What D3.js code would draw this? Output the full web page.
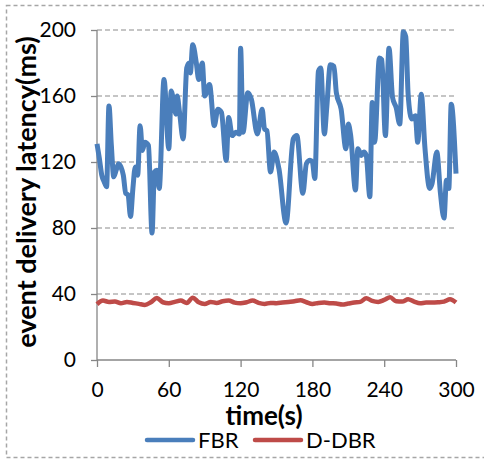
<!DOCTYPE html>
<html>
<head>
<meta charset="utf-8">
<script src="https://cdn.jsdelivr.net/npm/d3@7"></script>
<style>
  body { margin: 0; background: #fff; }
  svg text { font-family: Lato, "Open Sans", sans-serif; fill: #000; }
</style>
</head>
<body>
<svg id="chart" width="484" height="460"></svg>
<script>
// time (s) of each FBR sample
var fbrTimes = [0,2,4,6,8,10,12,14,16,18,
  20,22,24,26,28,30,32,34,36,38,
  40,43,46,48,50,52,56,60,62,66,
  67,69,72,75,77,78,80,83,85,88,
  90,94,98,101,104,108,110,113,116,119,
  120,122,126,129,134,138,140,142,145,148,
  152,158,164,167,172,175,178,180,182,185,
  187,190,192,195,198,200,204,208,210,212,
  216,218,221,223,225,228,230,232,236,238,
  241,244,247,250,253,256,258,260,263,266,
  268,271,274,278,280,284,287,290,292,294,
  296,300];
var fbrValues = [131,122,112,108,105,154,130,111,115,119,
  117,112,101,100,87,104,117,112,142,127,
  132,130,77,114,115,104,170,128,163,149,
  160,150,134,177,180,174,191,180,170,180,
  160,167,142,152,150,121,147,136,138,137,
  189,138,162,158,137,152,140,139,114,126,
  116,83,134,136,101,119,121,120,110,175,
  177,137,153,179,178,162,152,128,143,136,
  103,128,124,126,124,99,156,132,183,182,
  136,189,159,153,143,199,196,161,146,148,
  132,161,129,104,107,126,101,86,109,104,
  155,113];

// D-DBR, one sample every 5 s
var ddbrTimes = d3.range(0, 301, 5);
var ddbrValues = [33.8,36.0,35.2,35.4,34.4,35.2,34.6,34.0,33.4,35.0,
  37.6,35.0,34.4,35.2,36.0,34.6,37.8,35.0,34.0,35.2,
  34.6,35.6,36.0,34.8,34.4,35.0,36.0,34.6,34.0,34.6,
  34.4,34.8,35.2,35.6,36.2,35.0,34.0,34.6,34.8,34.4,
  34.2,33.6,34.2,34.8,35.2,37.4,35.8,35.2,36.4,38.0,
  35.6,35.4,36.8,35.4,34.4,34.8,34.8,35.0,35.4,36.8,
  34.8];

var xTicks = [0, 60, 120, 180, 240, 300];
var yTicks = [0, 40, 80, 120, 160, 200];
var seriesNames = ["FBR", "D-DBR"];
var seriesColors = ["#4a7ebb", "#be4b48"];

var svg = d3.select("#chart");

// dashed frame round the whole chart
svg.append("rect")
  .attr("x", 6.5).attr("y", 5.5)
  .attr("width", 490).attr("height", 452)
  .attr("fill", "none")
  .attr("stroke", "#a6a6a6")
  .attr("stroke-width", 1.5)
  .attr("stroke-dasharray", "4,3");

var x = d3.scaleLinear().domain([0, 300]).range([97, 456]);
var y = d3.scaleLinear().domain([0, 200]).range([360, 30]);

// grid lines
svg.append("g").selectAll("line")
  .data(yTicks.filter(function(d){ return d > 0; }))
  .enter().append("line")
  .attr("x1", x(0)).attr("x2", x(300))
  .attr("y1", function(d){ return y(d); })
  .attr("y2", function(d){ return y(d); })
  .attr("stroke", "#8c8c8c")
  .attr("stroke-width", 1.2)
  .attr("stroke-dasharray", "5,3");

// axes
var xAxis = d3.axisBottom(x).tickValues(xTicks).tickSize(7).tickPadding(15);
var yAxis = d3.axisLeft(y).tickValues(yTicks).tickSize(6).tickPadding(15);

var gx = svg.append("g").attr("transform", "translate(0," + y(0) + ")").call(xAxis);
var gy = svg.append("g").attr("transform", "translate(" + x(0) + ",0)").call(yAxis);

[gx, gy].forEach(function(g){
  g.select(".domain").attr("stroke", "#868686").attr("stroke-width", 1.3);
  g.selectAll(".tick line").attr("stroke", "#868686").attr("stroke-width", 1.3);
  g.selectAll(".tick text").style("font-size", "21px").attr("fill", "#000");
});
gx.select(".domain").attr("d", "M" + x(0) + ",0H" + x(300));
gy.select(".domain").attr("d", "M0," + y(0) + "V" + y(200));

// lines
var line = d3.line()
  .x(function(d){ return x(d[0]); })
  .y(function(d){ return y(d[1]); })
  .curve(d3.curveMonotoneX);

svg.append("path")
  .datum(ddbrTimes.map(function(t, k){ return [t, ddbrValues[k]]; }))
  .attr("d", line)
  .attr("fill", "none")
  .attr("stroke", seriesColors[1])
  .attr("stroke-width", 4.5)
  .attr("stroke-linejoin", "round");

svg.append("path")
  .datum(fbrTimes.map(function(t, k){ return [t, fbrValues[k]]; }))
  .attr("d", line)
  .attr("fill", "none")
  .attr("stroke", seriesColors[0])
  .attr("stroke-width", 5)
  .attr("stroke-linejoin", "round");

// axis titles
svg.append("text")
  .attr("x", 264).attr("y", 425)
  .attr("text-anchor", "middle")
  .style("font-size", "26px").style("font-weight", "bold")
  .text("time(s)");

svg.append("text")
  .attr("transform", "translate(36,192) rotate(-90)")
  .attr("text-anchor", "middle")
  .style("font-size", "27px").style("font-weight", "bold")
  .text("event delivery latency(ms)");

// legend
var legendX = [147, 255];
var lg = svg.append("g").selectAll("g").data(seriesNames).enter().append("g")
  .attr("transform", function(d, k){ return "translate(" + legendX[k] + ",440)"; });
lg.append("line")
  .attr("x1", 0).attr("x2", 46).attr("y1", 0).attr("y2", 0)
  .attr("stroke", function(d, k){ return seriesColors[k]; })
  .attr("stroke-width", 4.5)
  .attr("stroke-linecap", "round");
lg.append("text")
  .attr("x", 51).attr("y", 8)
  .style("font-size", "22px")
  .text(function(d){ return d; });
</script>
</body>
</html>
